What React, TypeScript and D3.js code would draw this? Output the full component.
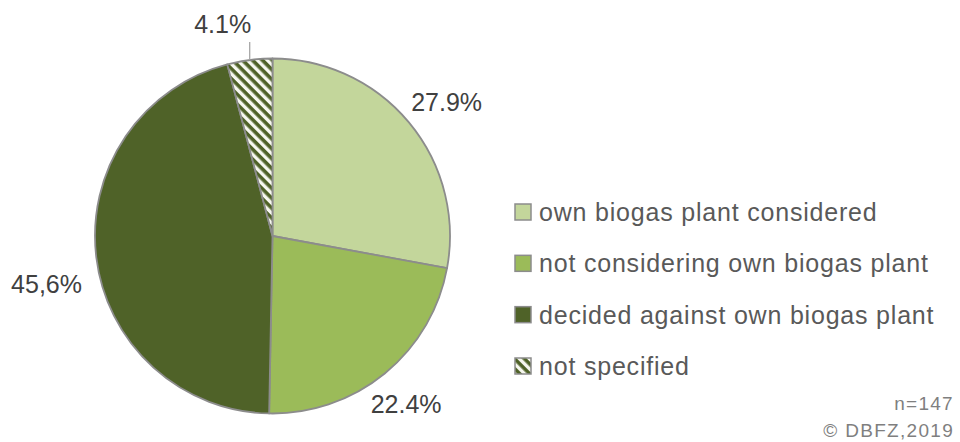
import React from "react";
import * as d3 from "d3";

const categories = [
  "own biogas plant considered",
  "not considering own biogas plant",
  "decided against own biogas plant",
  "not specified",
];
const values = [27.9, 22.4, 45.6, 4.1];
const valueLabels = ["27.9%", "22.4%", "45,6%", "4.1%"];
const sampleNote = "n=147";
const sourceNote = "© DBFZ,2019";

const colors = ["#C3D69B", "#9BBB59", "#4F6228", "url(#hatch)"];
// small layout nudges for the outside labels (style only)
const labelNudge: [number, number][] = [
  [7, 5],
  [-4, 0],
  [-10, 22],
  [0, 0],
];

const W = 960;
const H = 442;
const cx = 272.5;
const cy = 236;
const r = 177.5;

export default function App() {
  const pie = d3
    .pie<number>()
    .sort(null)
    .value((d) => d)
    .startAngle(0)
    .endAngle(2 * Math.PI);
  const arcs = pie(values);
  const arc = d3.arc<d3.PieArcDatum<number>>().innerRadius(0).outerRadius(r);

  const legendY = d3
    .scalePoint<string>()
    .domain(categories)
    .range([212, 366]);

  return (
    <svg
      width={W}
      height={H}
      style={{ position: "absolute", left: 0, top: 0, background: "#fff" }}
      fontFamily="'Liberation Sans', Arial, sans-serif"
    >
      <defs>
        <pattern
          id="hatch"
          patternUnits="userSpaceOnUse"
          width={7}
          height={7}
          patternTransform="rotate(45)"
        >
          <rect width={7} height={7} fill="#F7F8F0" />
          <rect width={7} height={3.6} fill="#4F6228" />
        </pattern>
      </defs>
      <g transform={`translate(${cx},${cy})`}>
        {arcs.map((a, i) => (
          <path
            key={i}
            d={arc(a) || ""}
            fill={colors[i]}
            stroke="#8C8C8C"
            strokeWidth={1.8}
            strokeLinejoin="round"
          />
        ))}
        {arcs.map((a, i) => {
          const mid = (a.startAngle + a.endAngle) / 2;
          const sx = Math.sin(mid);
          const sy = -Math.cos(mid);
          if (a.endAngle - a.startAngle < 0.3) {
            const x0 = r * sx;
            const y0 = r * sy;
            const y1 = y0 - 18;
            return (
              <g key={"l" + i}>
                <line x1={x0} y1={y0} x2={x0} y2={y1} stroke="#A6A6A6" strokeWidth={1.3} />
                <text
                  x={x0 + 1.5}
                  y={y1 - 9}
                  textAnchor="end"
                  fontSize={25}
                  fill="#404040"
                >
                  {valueLabels[i]}
                </text>
              </g>
            );
          }
          const D = r + 40;
          return (
            <text
              key={"l" + i}
              x={D * sx + labelNudge[i][0]}
              y={D * sy + labelNudge[i][1]}
              dy="0.36em"
              textAnchor="middle"
              fontSize={25}
              fill="#404040"
            >
              {valueLabels[i]}
            </text>
          );
        })}
      </g>
      <g>
        {categories.map((c, i) => {
          const y = legendY(c) as number;
          return (
            <g key={c}>
              <rect
                x={515}
                y={y - 8}
                width={16}
                height={16}
                fill={colors[i]}
                stroke="#8C8C8C"
                strokeWidth={1.5}
              />
              <text
                x={539}
                y={y + 9}
                fontSize={25}
                letterSpacing={0.8}
                fill="#595959"
              >
                {c}
              </text>
            </g>
          );
        })}
      </g>
      <text x={954} y={410} textAnchor="end" fontSize={19} letterSpacing={1.3} fill="#7F7F7F">
        {sampleNote}
      </text>
      <text x={954} y={437} textAnchor="end" fontSize={19} letterSpacing={1.3} fill="#7F7F7F">
        {sourceNote}
      </text>
    </svg>
  );
}
